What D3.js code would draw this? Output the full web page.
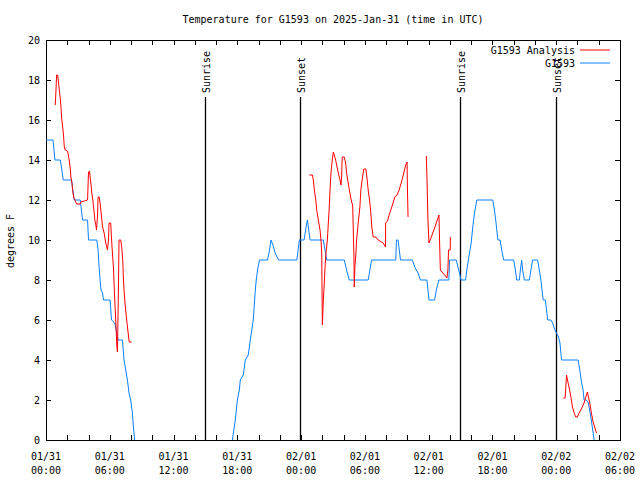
<!DOCTYPE html>
<html>
<head>
<meta charset="utf-8">
<script src="https://cdn.jsdelivr.net/npm/d3@7"></script>
<style>
  html, body { margin: 0; padding: 0; background: #fff; }
  svg text { font-family: "DejaVu Sans Mono", monospace; font-size: 10px; fill: #000; }
</style>
</head>
<body>
<svg id="chart" width="640" height="480"></svg>
<script>
// ---- Data (hours since 2025-01-31 00:00 UTC) ----
const titleText = "Temperature for G1593 on 2025-Jan-31 (time in UTC)";
const yLabelText = "degrees F";
const seriesNames = ["G1593 Analysis", "G1593"];

const obsHours = [0,0.66,0.84,1.34,1.47,1.62,2.41,2.56,2.65,3.22,3.35,3.44,3.91,4.0,4.78,4.9,5.0,5.09,5.18,5.32,5.41,6.03,6.16,6.47,6.66,6.78,7.19,7.34,7.5,7.66,7.81,7.97,8.13,8.22,8.34,
  12,
  17.53,17.81,18.0,18.19,18.28,18.56,18.75,19.03,19.22,19.5,19.69,19.78,19.9,20.09,20.84,21.03,21.16,21.35,21.56,21.87,23.6,23.75,23.84,24.28,24.47,24.59,24.68,24.84,26.09,26.25,26.41,28.06,28.28,28.53,30.31,30.47,30.63,32.9,32.97,33.12,33.35,34.47,34.69,35.0,35.22,35.84,35.93,36.03,36.56,36.72,36.96,37.9,37.97,38.6,38.75,38.9,39.05,39.47,39.59,39.78,40.0,40.15,40.31,40.53,42.03,42.19,42.34,42.51,42.72,42.87,43.06,44.0,44.16,44.28,44.53,44.63,44.75,44.84,45.0,45.47,45.62,45.78,46.25,46.41,46.56,46.66,46.78,46.97,47.09,47.2,47.5,47.66,47.81,47.97,48.22,48.35,48.44,48.5,50.06,50.22,50.37,50.53,50.62,50.84,51.03,51.19,51.34,51.5,51.56];
const obsTemps = [15,15,14,14,13.6,13,13,12.35,12,12,11.4,11,11,10,10,9.5,8.6,8,7.5,7.35,7,7,6,5.85,5.35,5,5,4,3.5,3,2.35,2,1.35,0.65,0,
  null,
  0,1,2,2.5,3,3.25,4,4.25,5,6,7.5,8,8.5,9,9,9.5,10,9.75,9.35,9,9,9.65,10,10,10.65,11,10.65,10,10,9.5,9,9,8.5,8,8,8.5,9,9,10,10,9,9,8.65,8.35,8,8,7.5,7,7,7.5,8,8,9,9,8.65,8.35,8,8,8.5,9.15,9.85,10.65,11.35,12,12,11.5,10.85,10,10,9.5,9,9,8.5,8,8,8.5,9,8.5,8,8,8.5,9,9,8.5,8,7.5,7,7,6.5,6,6,5.85,5.6,5.4,5.15,4.85,4.35,4,4,3.5,2.9,2.5,2,2,1.85,1.35,0.85,0.25,0];

const anaHours = [0.87,0.94,1.0,1.1,1.15,1.25,1.34,1.41,1.47,1.57,1.66,1.72,1.81,2.03,2.18,2.28,2.34,2.44,2.5,2.6,2.72,2.88,3.22,3.28,3.59,3.91,4.0,4.1,4.15,4.22,4.31,4.41,4.47,4.53,4.59,4.69,4.75,4.85,4.9,5.0,5.09,5.18,5.32,5.47,5.62,5.72,5.78,5.88,5.93,6.09,6.16,6.25,6.35,6.4,6.47,6.56,6.66,6.72,6.8,6.87,7.03,7.12,7.22,7.28,7.34,7.45,7.59,7.75,7.83,8.06,
  16,
  24.78,25.06,25.15,25.25,25.38,25.47,25.62,25.78,25.87,25.94,26.0,26.09,26.18,26.25,26.34,26.47,26.56,26.65,26.72,26.81,26.93,27.03,27.12,27.25,27.34,27.5,27.66,27.75,27.81,27.87,28.06,28.19,28.28,28.43,28.59,28.75,28.85,28.9,28.97,29.0,29.06,29.16,29.22,29.37,29.53,29.62,29.78,29.9,30.09,30.22,30.31,30.47,30.56,30.65,30.78,31.03,31.25,31.72,31.94,31.95,32.13,32.28,32.44,32.65,32.81,33.03,33.22,33.44,33.66,33.84,33.97,34.0,34.06,
  35,
  35.78,35.84,35.93,36.03,36.25,36.56,36.87,36.97,37.03,37.1,37.34,37.59,37.72,37.81,37.87,38.03,38.04,
  43,
  48.68,48.84,48.97,49.06,49.22,49.38,49.53,49.69,49.84,49.99,50.15,50.41,50.62,50.78,50.93,51.03,51.16,51.31,51.47,51.62,51.78];
const anaTemps = [16.75,17.5,18.25,18.25,18,17.5,17.1,16.65,16.1,15.65,15.15,14.65,14.5,14.45,14,13.6,13.15,12.85,12.5,12.15,12,11.8,11.8,11.9,11.95,12,13.4,13.45,13.15,12.85,12.35,12,11.65,11.4,11,10.75,10.5,11.25,12.15,12.15,11.85,11.4,10.65,10.35,9.85,9.65,9.5,10,10.85,10.85,10.1,9.35,8.6,7.85,7,6,4.75,4.4,7,10,10,9.65,9,8.15,7.5,6.75,6,5.25,4.9,4.9,
  null,
  13.25,13.25,13,12.5,12,11.5,11,10.5,10,9.35,5.75,7,7.85,8.65,9.35,10,10.85,11.65,12.5,13.35,14,14.4,14.25,14,13.75,13.35,13,12.75,13.15,14.15,14.15,13.85,13.35,12.85,12.35,11.9,11.75,10.65,9.15,7.65,8.65,9.35,10,10.85,11.65,12.5,13.15,13.55,13.55,13,12.5,11.85,11.35,10.65,10.15,10.15,10,9.85,9.65,10.85,10.95,11.25,11.5,11.85,12.15,12.25,12.5,12.9,13.35,13.75,13.9,12.6,11.15,
  null,
  14.2,13.15,11,9.85,10.15,10.6,11.1,11.25,9.85,8.5,8.35,8.2,8.1,8.5,9.5,9.5,10.15,
  null,
  2.1,2.1,3.25,3,2.6,2.15,1.65,1.35,1.15,1.15,1.35,1.6,1.85,2.15,2.4,2.15,1.85,1.35,0.9,0.65,0.35];

const sunHours = [15.0, 23.93, 38.97, 47.94];
const sunLabels = ["Sunrise", "Sunset", "Sunrise", "Sunset"];
const yTickValues = [0,2,4,6,8,10,12,14,16,18,20];
const xDomainHours = [0, 54];

// ---- Layout ----
const L = 46, R = 620, T = 40, B = 440;
const base = Date.UTC(2025, 0, 31);
const hr = 3600 * 1000;
const toDate = h => new Date(base + h * hr);

const x = d3.scaleUtc().domain(xDomainHours.map(toDate)).range([L, R]);
const y = d3.scaleLinear().domain([0, 20]).range([B, T]);

const svg = d3.select("#chart");

svg.append("defs").append("clipPath").attr("id", "clip")
  .append("rect").attr("x", L).attr("y", T).attr("width", R - L).attr("height", B - T);

// Title
svg.append("text").attr("x", 333).attr("y", 23).attr("text-anchor", "middle").text(titleText);

// Y label
svg.append("text").attr("transform", "translate(14,241) rotate(-90)")
  .attr("text-anchor", "middle").text(yLabelText);

// Axes (ticks inward, mirrored)
const xTicks = d3.utcHour.every(2).range(toDate(0), toDate(54.01));
const fmtDate = d3.utcFormat("%m/%d"), fmtTime = d3.utcFormat("%H:%M");

const axB = d3.axisBottom(x).tickValues(xTicks).tickSizeInner(-5).tickSizeOuter(0).tickFormat("");
const axT = d3.axisTop(x).tickValues(xTicks).tickSizeInner(-5).tickSizeOuter(0).tickFormat("");
const axL = d3.axisLeft(y).tickValues(yTickValues).tickSizeInner(-5).tickSizeOuter(0).tickFormat("");
const axR = d3.axisRight(y).tickValues(yTickValues).tickSizeInner(-5).tickSizeOuter(0).tickFormat("");

function styleAxis(g) {
  g.select(".domain").remove();
  g.selectAll("line").attr("stroke", "#000").attr("shape-rendering", "crispEdges");
}
svg.append("g").attr("transform", `translate(0,${B})`).call(axB).call(styleAxis);
svg.append("g").attr("transform", `translate(0,${T})`).call(axT).call(styleAxis);
svg.append("g").attr("transform", `translate(${L},0)`).call(axL).call(styleAxis);
svg.append("g").attr("transform", `translate(${R},0)`).call(axR).call(styleAxis);

// Y tick labels
svg.append("g").selectAll("text").data(yTickValues).join("text")
  .attr("x", L - 6).attr("y", d => y(d)).attr("dy", "0.35em")
  .attr("text-anchor", "end").text(d => d);

// X tick labels every 6h
const labelTicks = d3.utcHour.every(6).range(toDate(0), toDate(54.01));
const xl = svg.append("g").selectAll("g").data(labelTicks).join("g")
  .attr("transform", d => `translate(${x(d)},0)`);
xl.append("text").attr("y", 460).attr("text-anchor", "middle").text(d => fmtDate(d));
xl.append("text").attr("y", 474).attr("text-anchor", "middle").text(d => fmtTime(d));

// Frame
svg.append("rect").attr("x", L).attr("y", T).attr("width", R - L).attr("height", B - T)
  .attr("fill", "none").attr("stroke", "#000").attr("shape-rendering", "crispEdges");

// Series lines
const line = d3.line()
  .defined(d => d[1] !== null)
  .x(d => x(toDate(d[0])))
  .y(d => y(d[1]));

const anaData = anaHours.map((h, i) => [h, anaTemps[i]]);
const obsData = obsHours.map((h, i) => [h, obsTemps[i]]);

const colors = ["#ff0000", "#0a80ff"];

// Legend (drawn before sun labels, which overlap it in the reference)
const lg = svg.append("g");
seriesNames.forEach((n, i) => {
  const ly = 50 + i * 13;
  lg.append("text").attr("x", 575).attr("y", ly).attr("dy", "0.35em").attr("text-anchor", "end").text(n);
  lg.append("line").attr("x1", 580).attr("x2", 610).attr("y1", ly).attr("y2", ly)
    .attr("stroke", colors[i]).attr("stroke-width", 1);
});

// Sun lines
const sun = svg.append("g");
sunHours.forEach((h, i) => {
  const sx = Math.round(x(toDate(h))) + 0.5;
  sun.append("line").attr("x1", sx).attr("x2", sx).attr("y1", 97).attr("y2", B)
    .attr("stroke", "#000").attr("stroke-width", 1.3);
  sun.append("text").attr("transform", `translate(${sx + 4},93) rotate(-90)`)
    .attr("text-anchor", "start").text(sunLabels[i]);
});

const plot = svg.append("g").attr("clip-path", "url(#clip)");
plot.append("path").datum(obsData).attr("d", line)
  .attr("fill", "none").attr("stroke", colors[1]).attr("stroke-width", 1);
plot.append("path").datum(anaData).attr("d", line)
  .attr("fill", "none").attr("stroke", colors[0]).attr("stroke-width", 1);
</script>
</body>
</html>
